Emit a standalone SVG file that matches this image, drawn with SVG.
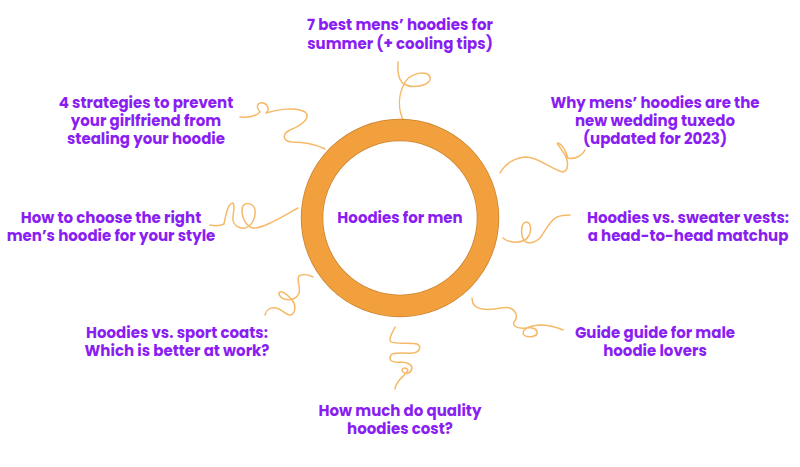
<svg xmlns="http://www.w3.org/2000/svg" width="800" height="467" viewBox="0 0 800 467">
<style>
.t{font-family:"Poppins","Open Sans","Liberation Sans",sans-serif;font-weight:700;font-size:15px;fill:#8a1ef2;text-anchor:middle}
.s{fill:none;stroke:#f6b968;stroke-width:1.5;stroke-linecap:round;stroke-linejoin:round}
</style>
<rect width="800" height="467" fill="#ffffff"/>
<g id="connectors">
<path class="s" d="M398,62 C397,72 399,81 404,84 C412,89 432,86 430,77 C428,70 410,72 404,84 C398,96 398,110 404,122"/>
<path class="s" d="M240,117 C248,118 256,116 260,112 C255,106 258,102 263,103 C268,104 270,110 266,113 C275,110 295,106 305,112 C312,118 300,126 290,130 C282,134 282,141 292,142 C305,142 315,144 325,149"/>
<path class="s" d="M500,173 C505,164 515,157 527,157 C540,158 552,170 563,172 C570,170 568,158 563,152 C560,147 556,143 558,143 C562,144 566,152 568,158 C574,160 582,156 585,150"/>
<path class="s" d="M210,225 C215,226 220,226 224,224 C226,214 228,203 233,203 C236,206 232,216 233,220 C234,226 240,229 245,228 C252,226 256,218 255,210 C254,204 246,201 243,206 C240,212 244,226 253,228 C262,229 280,218 298,208"/>
<path class="s" d="M503,238 C508,242 517,244 525,240 C532,235 532,224 527,222 C520,221 520,238 526,242 C530,244 536,242 540,238 C546,230 550,220 557,217 C562,215 566,215 570,215"/>
<path class="s" d="M313,277 C309,275 304,273 299,276 C296,280 301,287 299,293 C297,299 290,301 284,299 C279,297 278,293 280,292 C283,291 289,296 292,300 C296,305 296,312 291,315 C287,316 282,309 276,308 C270,307 266,310 265,315"/>
<path class="s" d="M472,298 C472,304 475,308 482,309 C492,311 504,306 510,308 C517,311 518,318 514,322 C512,326 518,329 526,328 C533,327 538,329 537,334 C535,337 527,338 524,335 C521,331 526,326 540,325 C548,325 556,327 563,330"/>
<path class="s" d="M395,327 C393,332 389,337 390,341 C392,345 410,342 417,344 C422,346 420,352 413,353 C405,354 395,351 391,355 C388,360 392,363 400,362 C406,362 412,364 412,368 C411,373 406,375 403,372 C400,369 405,366 408,370 C406,375 400,378 398,382 C396,385 395,387 395,389"/>
</g>
<g id="hub">
<circle cx="400" cy="218" r="88" fill="none" stroke="#c9822f" stroke-width="22.5"/>
<circle cx="400" cy="218" r="88" fill="none" stroke="#f2a03d" stroke-width="21"/>
<text class="t" x="400" y="223">Hoodies for men</text>
</g>
<g id="n1"><text class="t" x="400" y="30">7 best mens’ hoodies for</text><text class="t" x="400" y="49">summer (+ cooling tips)</text></g>
<g id="n2"><text class="t" x="146" y="108">4 strategies to prevent</text><text class="t" x="146" y="126">your girlfriend from</text><text class="t" x="146" y="144">stealing your hoodie</text></g>
<g id="n3"><text class="t" x="655" y="108">Why mens’ hoodies are the</text><text class="t" x="655" y="126">new wedding tuxedo</text><text class="t" x="655" y="144">(updated for 2023)</text></g>
<g id="n4"><text class="t" x="111" y="223">How to choose the right</text><text class="t" x="111" y="241">men’s hoodie for your style</text></g>
<g id="n5"><text class="t" x="688" y="223">Hoodies vs. sweater vests:</text><text class="t" x="688" y="241">a head-to-head matchup</text></g>
<g id="n6"><text class="t" x="177" y="338">Hoodies vs. sport coats:</text><text class="t" x="177" y="356">Which is better at work?</text></g>
<g id="n7"><text class="t" x="655" y="338">Guide guide for male</text><text class="t" x="655" y="356">hoodie lovers</text></g>
<g id="n8"><text class="t" x="400" y="416">How much do quality</text><text class="t" x="400" y="434">hoodies cost?</text></g>
</svg>
